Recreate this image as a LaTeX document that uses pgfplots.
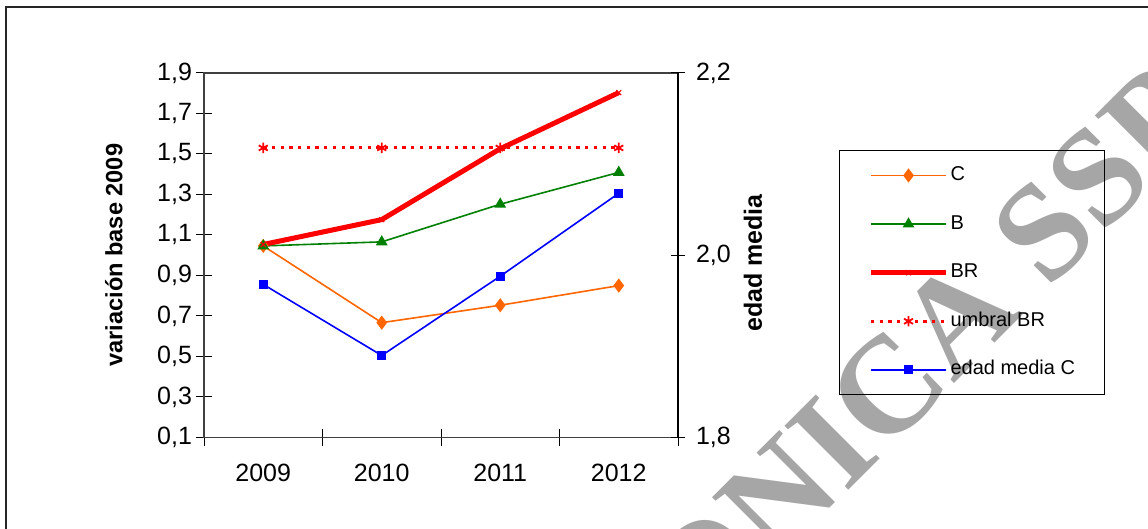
\documentclass[border=0pt]{standalone}
\usepackage{fontspec}
\setmainfont{Liberation Sans}
\newfontfamily\wmfont{Liberation Serif}
\usepackage{pgfplots}
\pgfplotsset{compat=1.18}

\definecolor{cC}{RGB}{255,102,0}
\definecolor{cB}{RGB}{0,128,0}
\definecolor{cBR}{RGB}{255,0,0}
\definecolor{cEM}{RGB}{0,0,255}
\definecolor{wm}{RGB}{166,166,166}

\pgfplotsset{
  legend image code/.code={%
    \draw[mark repeat=2,mark phase=2,#1]
      plot coordinates {(0pt,0pt) (18.75pt,0pt) (37.5pt,0pt)};},
  commonaxis/.style={
    at={(102pt,45.75pt)}, anchor=south west,
    scale only axis, width=237pt, height=182.25pt,
    xmin=-0.5, xmax=3.5,
    tick align=center,
    /pgf/number format/assume math mode=true,
    tick label style={font=\fontsize{12.5}{14}\selectfont, black},
    yticklabel style={/pgf/number format/fixed, /pgf/number format/fixed zerofill,
      /pgf/number format/precision=1, /pgf/number format/use comma},
  },
}

\begin{document}
\begin{tikzpicture}
% watermark, behind the chart
\node[rotate=45, text=wm, font=\wmfont\bfseries\fontsize{69}{69}\selectfont] at (463pt,90pt) {ONICA SSP};

% left axis: ratios to 2009
\begin{axis}[commonaxis,
  ymin=0.1, ymax=1.9,
  axis line style={black!75, line width=0.6pt},
  xtick={0,1,2,3}, xticklabels={2009,2010,2011,2012},
  major x tick style={draw=none},
  minor xtick={-0.5,0.5,1.5,2.5,3.5},
  minor tick length=8.5pt, major tick length=8pt,
  xtick pos=bottom, ytick pos=left,
  ytick={0.1,0.3,0.5,0.7,0.9,1.1,1.3,1.5,1.7,1.9},
  every tick/.style={black, line width=0.5pt},
  xticklabel style={anchor=north, yshift=-5.5pt},
  yticklabel style={anchor=east, xshift=1.5pt},
  ylabel={variación base 2009},
  every axis y label/.style={at={(axis description cs:-0.19,0.5)}, rotate=90, anchor=center,
    font=\bfseries\fontsize{11.8}{13}\selectfont},
  legend cell align=left,
  legend style={at={(axis description cs:1.3397,0.7888)}, anchor=north west,
    draw=black, line width=0.5pt, inner xsep=14.5pt, inner ysep=8pt,
    row sep=15.3pt, column sep=1pt, fill=none,
    font=\fontsize{10}{12}\selectfont,
    nodes={inner sep=0pt, text height=7pt, text depth=2pt}},
]
\addplot[cC, line width=0.8pt, mark=diamond*, mark size=2.9pt, mark options={fill=cC}]
  coordinates {(0,1.046) (1,0.667) (2,0.753) (3,0.850)};
\addlegendentry{C}
\addplot[cB, line width=0.8pt, mark=triangle*, mark size=2.6pt, mark options={fill=cB}]
  coordinates {(0,1.046) (1,1.066) (2,1.252) (3,1.409)};
\addlegendentry{B}
\addplot[cBR, line width=2.5pt, mark=x, mark size=1.8pt, mark options={line width=0.6pt}]
  coordinates {(0,1.053) (1,1.176) (2,1.526) (3,1.803)};
\addlegendentry{BR}
\addplot[cBR, line width=1.5pt, dash pattern=on 1.65pt off 2.7pt, mark=asterisk, mark size=2.6pt,
  mark options={solid, line width=0.9pt}]
  coordinates {(0,1.53) (1,1.53) (2,1.53) (3,1.53)};
\addlegendentry{umbral BR}
\addlegendimage{color=cEM, line width=0.8pt, mark=square*, mark size=1.9pt, mark options={fill=cEM}}
\addlegendentry{edad media C}
\end{axis}

% right axis: mean age
\begin{axis}[commonaxis,
  ymin=1.8, ymax=2.2,
  axis x line=none, axis y line*=right,
  axis line style={black, line width=0.6pt},
  ytick={1.8,2.0,2.2},
  major tick length=7pt,
  every tick/.style={black, line width=0.5pt},
  yticklabel style={anchor=west, xshift=2pt},
  ylabel={edad media},
  every axis y label/.style={at={(axis description cs:1.1582,0.4787)}, rotate=90, anchor=center,
    font=\bfseries\fontsize{12.5}{14}\selectfont},
]
\addplot[cEM, line width=0.8pt, mark=square*, mark size=1.9pt, mark options={fill=cEM}]
  coordinates {(0,1.968) (1,1.890) (2,1.977) (3,2.068)};
\end{axis}

% outer frame
\draw[black!85, line width=1pt] (2.75pt,-5pt) -- (2.75pt,260.85pt) -- (580pt,260.85pt);
% page size
\pgfresetboundingbox
\path[use as bounding box] (0pt,0pt) rectangle (574pt,264.5pt);
\end{tikzpicture}
\end{document}
